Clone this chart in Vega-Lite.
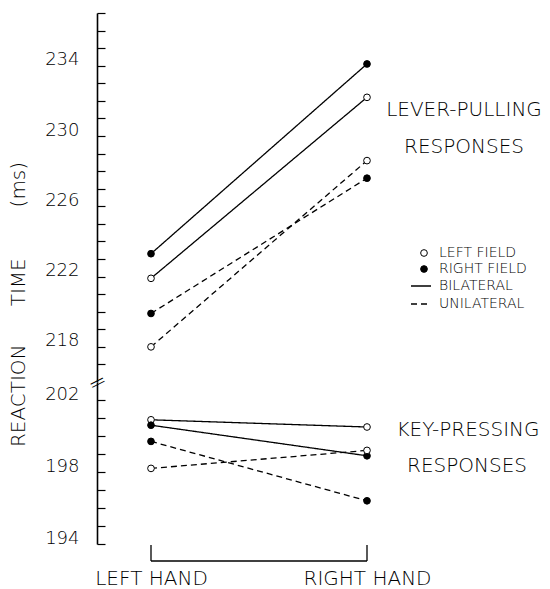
{
  "$schema": "https://vega.github.io/schema/vega-lite/v6.json",
  "background": "white",
  "padding": {"left": 8, "top": 6, "right": 0, "bottom": 0},
  "bounds": "flush",
  "spacing": 0,
  "config": {
    "view": {"stroke": null},
    "font": "DejaVu Sans",
    "axis": {"labelFont": "DejaVu Sans", "titleFont": "DejaVu Sans", "labelColor": "black", "titleColor": "black", "domainColor": "black", "tickColor": "black", "grid": false, "titleFontWeight": 200, "labelFontWeight": 200},
    "legend": {"labelFont": "DejaVu Sans", "labelColor": "black", "labelFontSize": 14, "labelFontWeight": 200},
    "text": {"font": "DejaVu Sans", "fontWeight": 200}
  },
  "datasets": {
    "rt": [
      {"response": "Lever-pulling", "hand": "LEFT HAND", "visualField": "RIGHT FIELD", "presentation": "BILATERAL", "rt": 223.3},
      {"response": "Lever-pulling", "hand": "RIGHT HAND", "visualField": "RIGHT FIELD", "presentation": "BILATERAL", "rt": 234.1},
      {"response": "Lever-pulling", "hand": "LEFT HAND", "visualField": "LEFT FIELD", "presentation": "BILATERAL", "rt": 221.9},
      {"response": "Lever-pulling", "hand": "RIGHT HAND", "visualField": "LEFT FIELD", "presentation": "BILATERAL", "rt": 232.2},
      {"response": "Lever-pulling", "hand": "LEFT HAND", "visualField": "RIGHT FIELD", "presentation": "UNILATERAL", "rt": 219.9},
      {"response": "Lever-pulling", "hand": "RIGHT HAND", "visualField": "RIGHT FIELD", "presentation": "UNILATERAL", "rt": 227.6},
      {"response": "Lever-pulling", "hand": "LEFT HAND", "visualField": "LEFT FIELD", "presentation": "UNILATERAL", "rt": 218.0},
      {"response": "Lever-pulling", "hand": "RIGHT HAND", "visualField": "LEFT FIELD", "presentation": "UNILATERAL", "rt": 228.6},
      {"response": "Key-pressing", "hand": "LEFT HAND", "visualField": "LEFT FIELD", "presentation": "BILATERAL", "rt": 200.9},
      {"response": "Key-pressing", "hand": "RIGHT HAND", "visualField": "LEFT FIELD", "presentation": "BILATERAL", "rt": 200.5},
      {"response": "Key-pressing", "hand": "LEFT HAND", "visualField": "RIGHT FIELD", "presentation": "BILATERAL", "rt": 200.6},
      {"response": "Key-pressing", "hand": "RIGHT HAND", "visualField": "RIGHT FIELD", "presentation": "BILATERAL", "rt": 198.9},
      {"response": "Key-pressing", "hand": "LEFT HAND", "visualField": "RIGHT FIELD", "presentation": "UNILATERAL", "rt": 199.7},
      {"response": "Key-pressing", "hand": "RIGHT HAND", "visualField": "RIGHT FIELD", "presentation": "UNILATERAL", "rt": 196.4},
      {"response": "Key-pressing", "hand": "LEFT HAND", "visualField": "LEFT FIELD", "presentation": "UNILATERAL", "rt": 198.2},
      {"response": "Key-pressing", "hand": "RIGHT HAND", "visualField": "LEFT FIELD", "presentation": "UNILATERAL", "rt": 199.2}
    ],
    "labels": [
      {"response": "Lever-pulling", "hand": "RIGHT HAND", "line": 1, "label": "LEVER-PULLING"},
      {"response": "Lever-pulling", "hand": "RIGHT HAND", "line": 2, "label": "RESPONSES"},
      {"response": "Key-pressing", "hand": "RIGHT HAND", "line": 1, "label": "KEY-PRESSING"},
      {"response": "Key-pressing", "hand": "RIGHT HAND", "line": 2, "label": "RESPONSES"}
    ]
  },
  "resolve": {"scale": {"y": "independent", "x": "shared"}, "legend": {"fill": "shared", "strokeDash": "shared"}},
  "vconcat": [
    {
      "width": 324,
      "height": 369,
      "encoding": {
        "x": {"field": "hand", "type": "nominal", "scale": {"type": "point", "domain": ["LEFT HAND", "RIGHT HAND"], "padding": 0.25}, "axis": null}
      },
      "layer": [
        {
          "data": {"name": "rt"},
          "transform": [{"filter": "datum.response == 'Lever-pulling'"}],
          "mark": {"type": "line", "color": "black", "strokeWidth": 1.3},
          "encoding": {
            "y": {
              "field": "rt", "type": "quantitative",
              "scale": {"domain": [216, 237], "zero": false, "nice": false},
              "axis": {"values": [217, 218, 219, 220, 221, 222, 223, 224, 225, 226, 227, 228, 229, 230, 231, 232, 233, 234, 235, 236, 237], "labelExpr": "datum.value % 4 == 2 ? datum.label : ''", "labelOverlap": false, "labelFontSize": {"condition": {"test": "datum.value % 4 == 2", "value": 18}, "value": 1}, "labelPadding": 26, "labelOffset": -6, "tickSize": -8, "tickWidth": 1.2, "domainWidth": 1.6, "title": "REACTION\u00a0\u00a0\u00a0\u00a0\u00a0 TIME\u00a0\u00a0\u00a0\u00a0\u00a0\u00a0\u00a0 (ms)", "titleFontSize": 20, "titleAngle": 270, "titleX": -79, "titleY": 291, "titleAlign": "center", "titleBaseline": "middle"}
            },
            "detail": {"field": "visualField"},
            "strokeDash": {"field": "presentation", "type": "nominal", "scale": {"domain": ["BILATERAL", "UNILATERAL"], "range": [[1, 0], [6, 4]]},
              "legend": {"orient": "none", "legendX": 313, "legendY": 262, "title": null, "symbolType": "stroke", "symbolStrokeColor": "black", "symbolStrokeWidth": 1.3, "symbolSize": 400, "labelOffset": 7, "rowPadding": 0}}
          }
        },
        {
          "data": {"name": "rt"},
          "transform": [{"filter": "datum.response == 'Lever-pulling'"}],
          "mark": {"type": "point", "shape": "circle", "filled": true, "stroke": "black", "strokeWidth": 1, "size": 45, "opacity": 1},
          "encoding": {
            "y": {"field": "rt", "type": "quantitative",
              "axis": {"values": [217, 218, 219, 220, 221, 222, 223, 224, 225, 226, 227, 228, 229, 230, 231, 232, 233, 234, 235, 236, 237], "labelExpr": "datum.value % 4 == 2 ? datum.label : ''", "labelOverlap": false, "labelFontSize": {"condition": {"test": "datum.value % 4 == 2", "value": 18}, "value": 1}, "labelPadding": 26, "labelOffset": -6, "tickSize": -8, "tickWidth": 1.2, "domainWidth": 1.6, "title": "REACTION\u00a0\u00a0\u00a0\u00a0\u00a0 TIME\u00a0\u00a0\u00a0\u00a0\u00a0\u00a0\u00a0 (ms)", "titleFontSize": 20, "titleAngle": 270, "titleX": -79, "titleY": 291, "titleAlign": "center", "titleBaseline": "middle"}},
            "fill": {"field": "visualField", "type": "nominal", "scale": {"domain": ["LEFT FIELD", "RIGHT FIELD"], "range": ["white", "black"]},
              "legend": {"orient": "none", "legendX": 320, "legendY": 233, "title": null, "symbolType": "circle", "symbolStrokeColor": "black", "symbolStrokeWidth": 1, "symbolSize": 45, "labelOffset": 8, "rowPadding": 2}}
          }
        },
        {
          "data": {"name": "labels"},
          "transform": [{"filter": "datum.response == 'Lever-pulling' && datum.line == 1"}],
          "mark": {"type": "text", "fontSize": 20, "dx": 97, "align": "center", "baseline": "middle", "color": "black"},
          "encoding": {
            "y": {"datum": 231.5, "type": "quantitative",
              "axis": {"values": [217, 218, 219, 220, 221, 222, 223, 224, 225, 226, 227, 228, 229, 230, 231, 232, 233, 234, 235, 236, 237], "labelExpr": "datum.value % 4 == 2 ? datum.label : ''", "labelOverlap": false, "labelFontSize": {"condition": {"test": "datum.value % 4 == 2", "value": 18}, "value": 1}, "labelPadding": 26, "labelOffset": -6, "tickSize": -8, "tickWidth": 1.2, "domainWidth": 1.6, "title": "REACTION\u00a0\u00a0\u00a0\u00a0\u00a0 TIME\u00a0\u00a0\u00a0\u00a0\u00a0\u00a0\u00a0 (ms)", "titleFontSize": 20, "titleAngle": 270, "titleX": -79, "titleY": 291, "titleAlign": "center", "titleBaseline": "middle"}},
            "text": {"field": "label"}
          }
        },
        {
          "data": {"name": "labels"},
          "transform": [{"filter": "datum.response == 'Lever-pulling' && datum.line == 2"}],
          "mark": {"type": "text", "fontSize": 20, "dx": 97, "align": "center", "baseline": "middle", "color": "black"},
          "encoding": {
            "y": {"datum": 229.4, "type": "quantitative",
              "axis": {"values": [217, 218, 219, 220, 221, 222, 223, 224, 225, 226, 227, 228, 229, 230, 231, 232, 233, 234, 235, 236, 237], "labelExpr": "datum.value % 4 == 2 ? datum.label : ''", "labelOverlap": false, "labelFontSize": {"condition": {"test": "datum.value % 4 == 2", "value": 18}, "value": 1}, "labelPadding": 26, "labelOffset": -6, "tickSize": -8, "tickWidth": 1.2, "domainWidth": 1.6, "title": "REACTION\u00a0\u00a0\u00a0\u00a0\u00a0 TIME\u00a0\u00a0\u00a0\u00a0\u00a0\u00a0\u00a0 (ms)", "titleFontSize": 20, "titleAngle": 270, "titleX": -79, "titleY": 291, "titleAlign": "center", "titleBaseline": "middle"}},
            "text": {"field": "label"}
          }
        }
      ]
    },
    {
      "width": 324,
      "height": 162,
      "encoding": {
        "x": {"field": "hand", "type": "nominal", "scale": {"type": "point", "domain": ["LEFT HAND", "RIGHT HAND"], "padding": 0.25},
          "axis": {"orient": "bottom", "domain": false, "ticks": false, "labelAngle": 0, "labelFontSize": 20, "labelPadding": 24, "labelBaseline": "top", "title": null}}
      },
      "layer": [
        {
          "data": {"name": "rt"},
          "transform": [{"filter": "datum.response == 'Key-pressing'"}],
          "mark": {"type": "line", "color": "black", "strokeWidth": 1.3},
          "encoding": {
            "y": {
              "field": "rt", "type": "quantitative",
              "scale": {"domain": [194, 203], "zero": false, "nice": false},
              "axis": {"values": [194, 195, 196, 197, 198, 199, 200, 201, 202], "labelExpr": "datum.value % 4 == 2 ? datum.label : ''", "labelOverlap": false, "labelFontSize": {"condition": {"test": "datum.value % 4 == 2", "value": 18}, "value": 1}, "labelPadding": 26, "labelOffset": -6, "tickSize": -8, "tickWidth": 1.2, "domainWidth": 1.6, "title": "=", "titleFontSize": 22, "titleAngle": 333, "titleX": 0, "titleY": 0, "titleAlign": "center", "titleBaseline": "middle", "titlePadding": 0}
            },
            "detail": {"field": "visualField"},
            "strokeDash": {"field": "presentation", "type": "nominal", "scale": {"domain": ["BILATERAL", "UNILATERAL"], "range": [[1, 0], [6, 4]]}}
          }
        },
        {
          "data": {"name": "rt"},
          "transform": [{"filter": "datum.response == 'Key-pressing'"}],
          "mark": {"type": "point", "shape": "circle", "filled": true, "stroke": "black", "strokeWidth": 1, "size": 45, "opacity": 1},
          "encoding": {
            "y": {"field": "rt", "type": "quantitative",
              "axis": {"values": [194, 195, 196, 197, 198, 199, 200, 201, 202], "labelExpr": "datum.value % 4 == 2 ? datum.label : ''", "labelOverlap": false, "labelFontSize": {"condition": {"test": "datum.value % 4 == 2", "value": 18}, "value": 1}, "labelPadding": 26, "labelOffset": -6, "tickSize": -8, "tickWidth": 1.2, "domainWidth": 1.6, "title": "=", "titleFontSize": 22, "titleAngle": 333, "titleX": 0, "titleY": 0, "titleAlign": "center", "titleBaseline": "middle", "titlePadding": 0}},
            "fill": {"field": "visualField", "type": "nominal", "scale": {"domain": ["LEFT FIELD", "RIGHT FIELD"], "range": ["white", "black"]}}
          }
        },
        {
          "data": {"name": "labels"},
          "transform": [{"filter": "datum.response == 'Key-pressing' && datum.line == 1"}],
          "mark": {"type": "text", "fontSize": 20, "dx": 101, "align": "center", "baseline": "middle", "color": "black"},
          "encoding": {
            "y": {"datum": 200.33, "type": "quantitative",
              "axis": {"values": [194, 195, 196, 197, 198, 199, 200, 201, 202], "labelExpr": "datum.value % 4 == 2 ? datum.label : ''", "labelOverlap": false, "labelFontSize": {"condition": {"test": "datum.value % 4 == 2", "value": 18}, "value": 1}, "labelPadding": 26, "labelOffset": -6, "tickSize": -8, "tickWidth": 1.2, "domainWidth": 1.6, "title": "=", "titleFontSize": 22, "titleAngle": 333, "titleX": 0, "titleY": 0, "titleAlign": "center", "titleBaseline": "middle", "titlePadding": 0}},
            "text": {"field": "label"}
          }
        },
        {
          "data": {"name": "labels"},
          "transform": [{"filter": "datum.response == 'Key-pressing' && datum.line == 2"}],
          "mark": {"type": "text", "fontSize": 20, "dx": 100, "align": "center", "baseline": "middle", "color": "black"},
          "encoding": {
            "y": {"datum": 198.33, "type": "quantitative",
              "axis": {"values": [194, 195, 196, 197, 198, 199, 200, 201, 202], "labelExpr": "datum.value % 4 == 2 ? datum.label : ''", "labelOverlap": false, "labelFontSize": {"condition": {"test": "datum.value % 4 == 2", "value": 18}, "value": 1}, "labelPadding": 26, "labelOffset": -6, "tickSize": -8, "tickWidth": 1.2, "domainWidth": 1.6, "title": "=", "titleFontSize": 22, "titleAngle": 333, "titleX": 0, "titleY": 0, "titleAlign": "center", "titleBaseline": "middle", "titlePadding": 0}},
            "text": {"field": "label"}
          }
        },
        {
          "data": {"values": [{"hand": "LEFT HAND", "handEnd": "RIGHT HAND"}]},
          "mark": {"type": "rule", "color": "black", "strokeWidth": 1.5},
          "encoding": {"x2": {"field": "handEnd"}, "y": {"datum": 193.05, "type": "quantitative",
              "axis": {"values": [194, 195, 196, 197, 198, 199, 200, 201, 202], "labelExpr": "datum.value % 4 == 2 ? datum.label : ''", "labelOverlap": false, "labelFontSize": {"condition": {"test": "datum.value % 4 == 2", "value": 18}, "value": 1}, "labelPadding": 26, "labelOffset": -6, "tickSize": -8, "tickWidth": 1.2, "domainWidth": 1.6, "title": "=", "titleFontSize": 22, "titleAngle": 333, "titleX": 0, "titleY": 0, "titleAlign": "center", "titleBaseline": "middle", "titlePadding": 0}}}
        },
        {
          "data": {"values": [{"hand": "LEFT HAND"}, {"hand": "RIGHT HAND"}]},
          "mark": {"type": "rule", "color": "black", "strokeWidth": 1.3},
          "encoding": {"y": {"datum": 193.95, "type": "quantitative",
              "axis": {"values": [194, 195, 196, 197, 198, 199, 200, 201, 202], "labelExpr": "datum.value % 4 == 2 ? datum.label : ''", "labelOverlap": false, "labelFontSize": {"condition": {"test": "datum.value % 4 == 2", "value": 18}, "value": 1}, "labelPadding": 26, "labelOffset": -6, "tickSize": -8, "tickWidth": 1.2, "domainWidth": 1.6, "title": "=", "titleFontSize": 22, "titleAngle": 333, "titleX": 0, "titleY": 0, "titleAlign": "center", "titleBaseline": "middle", "titlePadding": 0}}, "y2": {"datum": 193.05}}
        }
      ]
    }
  ]
}
